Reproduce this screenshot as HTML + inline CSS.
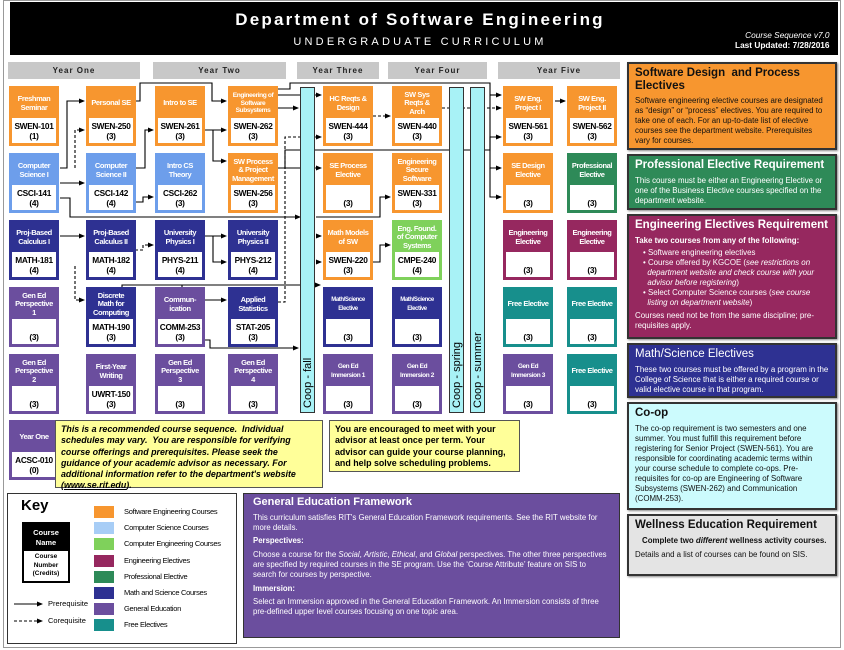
<!DOCTYPE html>
<html><head><meta charset="utf-8"><style>
*{margin:0;padding:0;box-sizing:border-box}
body{width:844px;height:650px;background:#fff;position:relative;font-family:"Liberation Sans",sans-serif;overflow:hidden}
.abs{position:absolute}
.hdr{left:10px;top:2px;width:828px;height:53px;background:#000;color:#fff}
.yr{position:absolute;top:62px;height:17px;background:#c8c8c8;font-size:8px;font-weight:bold;letter-spacing:1px;text-align:center;line-height:17px;color:#222}
.b{position:absolute;width:50px;height:60px;border:3px solid;display:flex;flex-direction:column}
.b .t{height:29px;color:#fff;font-size:7.5px;font-weight:bold;text-align:center;display:flex;align-items:center;justify-content:center;line-height:8.6px;letter-spacing:-0.4px}
.b .w{flex:1;background:#fff;font-size:8.3px;font-weight:bold;text-align:center;display:flex;align-items:center;justify-content:center;line-height:10px;letter-spacing:-0.3px}
.o{border-color:#f7962f;background:#f7962f}
.c{border-color:#6d9eeb;background:#6d9eeb}
.ce{border-color:#7fd15b;background:#7fd15b}
.m{border-color:#2e3192;background:#2e3192}
.g{border-color:#6b4e9e;background:#6b4e9e}
.e{border-color:#96285f;background:#96285f}
.p{border-color:#2e8a58;background:#2e8a58}
.f{border-color:#178f8c;background:#178f8c}
.coop{position:absolute;top:87px;height:326px;width:15px;background:#a8f2f6;border:1px solid #333}
.coop span{position:absolute;left:50%;bottom:4px;transform-origin:left bottom;transform:rotate(-90deg) translate(0,50%);white-space:nowrap;font-size:11px}
.rp{position:absolute;left:627px;width:210px;border:2px solid #333;padding:3px 6px;font-size:7.9px;line-height:10px;box-shadow:1px 1px 2px #888}
.rp h3{font-size:11.5px;line-height:13px;margin-bottom:4px}
.note{position:absolute;background:#ffff99;border:1px solid #555;font-size:8.9px;font-weight:bold;line-height:11.3px;padding:3px 5px}
.kr{position:absolute;width:20px;height:12px}
.kt{position:absolute;font-size:7.5px;letter-spacing:-0.3px}
</style></head><body>
<div class="abs" style="left:3px;top:0;width:838px;height:648px;border:1px solid #999"></div>
<div class="abs hdr">
 <div class="abs" style="left:0;width:820px;top:8px;text-align:center;font-size:17px;font-weight:bold;letter-spacing:2.2px">Department of Software Engineering</div>
 <div class="abs" style="left:0;width:820px;top:34px;text-align:center;font-size:11px;letter-spacing:3.2px">UNDERGRADUATE CURRICULUM</div>
 <div class="abs" style="left:725px;top:28px;font-size:8.3px;text-align:right;line-height:10px"><i>Course Sequence v7.0</i><br><b>Last Updated: 7/28/2016</b></div>
</div>
<div class="yr" style="left:8px;width:132px">Year One</div>
<div class="yr" style="left:153px;width:133px">Year Two</div>
<div class="yr" style="left:297px;width:82px">Year Three</div>
<div class="yr" style="left:388px;width:99px">Year Four</div>
<div class="yr" style="left:498px;width:122px">Year Five</div>

<svg class="abs" style="left:0;top:0" width="844" height="650">
<defs><marker id="a" markerUnits="userSpaceOnUse" markerWidth="6" markerHeight="6" refX="5" refY="3" orient="auto"><path d="M0,0.5L6,3L0,5.5z" fill="#000"/></marker></defs>
<g fill="none" stroke="#000" stroke-width="1.1" marker-end="url(#a)">
<path d="M60,168H67V101H84"/>
<path d="M60,183H84"/>
<path d="M60,198H70V217H300"/>
<path d="M316,217H380V197H390"/>
<path d="M135,101H140V83H212V101H226"/>
<path d="M135,168H145V130H153"/>
<path d="M135,202H143V197H153"/>
<path d="M205,130H226"/>
<path d="M213,130V161H226"/>
<path d="M278,108H298"/>
<path d="M278,95H321"/>
<path d="M278,168H321"/>
<path d="M285,168V150H490V137H501"/>
<path d="M278,89H290V83H490V168H501"/>
<path d="M490,95H501"/>
<path d="M555,101H565"/>
<path d="M490,168V197H501"/>
<path d="M60,236H84"/>
<path d="M205,236H226"/>
<path d="M213,236V262H226"/>
<path d="M316,262H321"/>
<path d="M373,262H380V245H390"/>
<path d="M316,236H321"/>
<path d="M135,300H122V285H320"/>
<path d="M182,285V300H226"/>
<path d="M205,340H210V348H298"/>
</g>
<g fill="none" stroke="#000" stroke-width="1.1" stroke-dasharray="3,2" marker-end="url(#a)">
<path d="M75,168V130H84"/>
<path d="M135,250H143V245H153"/>
<path d="M75,266V300H84"/>
<path d="M278,302H285V137H321"/>
<path d="M373,116H390"/>
<path d="M442,108H501"/>
</g>
</svg>

<div class="coop" style="left:300px"><span>Coop - fall</span></div>
<div class="coop" style="left:449px"><span>Coop - spring</span></div>
<div class="coop" style="left:470px"><span>Coop - summer</span></div>

<div class="b o" style="left:9px;top:86px"><div class="t">Freshman<br>Seminar</div><div class="w">SWEN-101<br>(1)</div></div>
<div class="b o" style="left:86px;top:86px"><div class="t">Personal SE</div><div class="w">SWEN-250<br>(3)</div></div>
<div class="b o" style="left:155px;top:86px"><div class="t">Intro to SE</div><div class="w">SWEN-261<br>(3)</div></div>
<div class="b o" style="left:228px;top:86px"><div class="t" style="font-size:6.6px;line-height:7.8px">Engineering of<br>Software<br>Subsystems</div><div class="w">SWEN-262<br>(3)</div></div>
<div class="b o" style="left:323px;top:86px"><div class="t">HC Reqts &amp;<br>Design</div><div class="w">SWEN-444<br>(3)</div></div>
<div class="b o" style="left:392px;top:86px"><div class="t">SW Sys<br>Reqts &amp;<br>Arch</div><div class="w">SWEN-440<br>(3)</div></div>
<div class="b o" style="left:503px;top:86px"><div class="t">SW Eng.<br>Project I</div><div class="w">SWEN-561<br>(3)</div></div>
<div class="b o" style="left:567px;top:86px"><div class="t">SW Eng.<br>Project II</div><div class="w">SWEN-562<br>(3)</div></div>

<div class="b c" style="left:9px;top:153px"><div class="t">Computer<br>Science I</div><div class="w">CSCI-141<br>(4)</div></div>
<div class="b c" style="left:86px;top:153px"><div class="t">Computer<br>Science II</div><div class="w">CSCI-142<br>(4)</div></div>
<div class="b c" style="left:155px;top:153px"><div class="t">Intro CS<br>Theory</div><div class="w">CSCI-262<br>(3)</div></div>
<div class="b o" style="left:228px;top:153px"><div class="t">SW Process<br>&amp; Project<br>Management</div><div class="w">SWEN-256<br>(3)</div></div>
<div class="b o" style="left:323px;top:153px"><div class="t">SE Process<br>Elective</div><div class="w"><br>(3)</div></div>
<div class="b o" style="left:392px;top:153px"><div class="t">Engineering<br>Secure<br>Software</div><div class="w">SWEN-331<br>(3)</div></div>
<div class="b o" style="left:503px;top:153px"><div class="t">SE Design<br>Elective</div><div class="w"><br>(3)</div></div>
<div class="b p" style="left:567px;top:153px"><div class="t">Professional<br>Elective</div><div class="w"><br>(3)</div></div>

<div class="b m" style="left:9px;top:220px"><div class="t">Proj-Based<br>Calculus I</div><div class="w">MATH-181<br>(4)</div></div>
<div class="b m" style="left:86px;top:220px"><div class="t">Proj-Based<br>Calculus II</div><div class="w">MATH-182<br>(4)</div></div>
<div class="b m" style="left:155px;top:220px"><div class="t">University<br>Physics I</div><div class="w">PHYS-211<br>(4)</div></div>
<div class="b m" style="left:228px;top:220px"><div class="t">University<br>Physics II</div><div class="w">PHYS-212<br>(4)</div></div>
<div class="b o" style="left:323px;top:220px"><div class="t">Math Models<br>of SW</div><div class="w">SWEN-220<br>(3)</div></div>
<div class="b ce" style="left:392px;top:220px"><div class="t">Eng. Found.<br>of Computer<br>Systems</div><div class="w">CMPE-240<br>(4)</div></div>
<div class="b e" style="left:503px;top:220px"><div class="t">Engineering<br>Elective</div><div class="w"><br>(3)</div></div>
<div class="b e" style="left:567px;top:220px"><div class="t">Engineering<br>Elective</div><div class="w"><br>(3)</div></div>

<div class="b g" style="left:9px;top:287px"><div class="t">Gen Ed<br>Perspective<br>1</div><div class="w"><br>(3)</div></div>
<div class="b m" style="left:86px;top:287px"><div class="t">Discrete<br>Math for<br>Computing</div><div class="w">MATH-190<br>(3)</div></div>
<div class="b g" style="left:155px;top:287px"><div class="t">Commun-<br>ication</div><div class="w">COMM-253<br>(3)</div></div>
<div class="b m" style="left:228px;top:287px"><div class="t">Applied<br>Statistics</div><div class="w">STAT-205<br>(3)</div></div>
<div class="b m" style="left:323px;top:287px"><div class="t" style="font-size:6px">Math/Science<br>Elective</div><div class="w"><br>(3)</div></div>
<div class="b m" style="left:392px;top:287px"><div class="t" style="font-size:6px">Math/Science<br>Elective</div><div class="w"><br>(3)</div></div>
<div class="b f" style="left:503px;top:287px"><div class="t">Free Elective</div><div class="w"><br>(3)</div></div>
<div class="b f" style="left:567px;top:287px"><div class="t">Free Elective</div><div class="w"><br>(3)</div></div>

<div class="b g" style="left:9px;top:354px"><div class="t">Gen Ed<br>Perspective<br>2</div><div class="w"><br>(3)</div></div>
<div class="b g" style="left:86px;top:354px"><div class="t">First-Year<br>Writing</div><div class="w">UWRT-150<br>(3)</div></div>
<div class="b g" style="left:155px;top:354px"><div class="t">Gen Ed<br>Perspective<br>3</div><div class="w"><br>(3)</div></div>
<div class="b g" style="left:228px;top:354px"><div class="t">Gen Ed<br>Perspective<br>4</div><div class="w"><br>(3)</div></div>
<div class="b g" style="left:323px;top:354px"><div class="t" style="font-size:6.5px">Gen Ed<br>Immersion 1</div><div class="w"><br>(3)</div></div>
<div class="b g" style="left:392px;top:354px"><div class="t" style="font-size:6.5px">Gen Ed<br>Immersion 2</div><div class="w"><br>(3)</div></div>
<div class="b g" style="left:503px;top:354px"><div class="t" style="font-size:6.5px">Gen Ed<br>Immersion 3</div><div class="w"><br>(3)</div></div>
<div class="b f" style="left:567px;top:354px"><div class="t">Free Elective</div><div class="w"><br>(3)</div></div>

<div class="b g" style="left:9px;top:420px"><div class="t">Year One</div><div class="w">ACSC-010<br>(0)</div></div>

<div class="note" style="left:55px;top:420px;width:268px;height:68px;font-style:italic">This is a recommended course sequence. &nbsp;Individual schedules may vary. &nbsp;You are responsible for verifying course offerings and prerequisites. Please seek the guidance of your academic advisor as necessary. For additional information refer to the department's website (<u>www.se.rit.edu</u>).</div>
<div class="note" style="left:329px;top:420px;width:191px;height:52px">You are encouraged to meet with your advisor at least once per term. Your advisor can guide your course planning, and help solve scheduling problems.</div>

<div class="abs" style="left:7px;top:493px;width:230px;height:151px;border:1px solid #333"></div>
<div class="abs" style="left:21px;top:497px;font-size:15px;font-weight:bold">Key</div>
<div class="abs" style="left:22px;top:522px;width:48px;height:61px;background:#000;border:2px solid #000">
 <div style="height:27px;color:#fff;font-size:7.5px;font-weight:bold;text-align:center;line-height:10px;padding-top:4px">Course<br>Name</div>
 <div style="background:#fff;height:30px;font-size:6.5px;font-weight:bold;text-align:center;line-height:8.5px;padding-top:2px">Course<br>Number<br>(Credits)</div>
</div>
<svg class="abs" style="left:0;top:595px" width="80" height="40"><g stroke="#000" stroke-width="1.1" marker-end="url(#a)"><path d="M14,9H42"/><path d="M14,26H42" stroke-dasharray="3,2"/></g></svg>
<div class="abs" style="left:48px;top:599px;font-size:7.5px">Prerequisite</div>
<div class="abs" style="left:48px;top:616px;font-size:7.5px">Corequisite</div>
<div class="kr" style="top:506px;left:94px;background:#f7962f"></div><div class="kt" style="left:124px;top:507px">Software Engineering Courses</div>
<div class="kr" style="top:522px;left:94px;background:#a7cdf6"></div><div class="kt" style="left:124px;top:523px">Computer Science Courses</div>
<div class="kr" style="top:538px;left:94px;background:#7fd15b"></div><div class="kt" style="left:124px;top:539px">Computer Engineering Courses</div>
<div class="kr" style="top:555px;left:94px;background:#96285f"></div><div class="kt" style="left:124px;top:556px">Engineering Electives</div>
<div class="kr" style="top:571px;left:94px;background:#2e8a58"></div><div class="kt" style="left:124px;top:572px">Professional Elective</div>
<div class="kr" style="top:587px;left:94px;background:#2e3192"></div><div class="kt" style="left:124px;top:588px">Math and Science Courses</div>
<div class="kr" style="top:603px;left:94px;background:#6b4e9e"></div><div class="kt" style="left:124px;top:604px">General Education</div>
<div class="kr" style="top:619px;left:94px;background:#178f8c"></div><div class="kt" style="left:124px;top:620px">Free Electives</div>

<div class="abs" style="left:243px;top:493px;width:377px;height:145px;background:#6b4e9e;border:1px solid #333;color:#fff;padding:4px 9px;font-size:7.8px;line-height:9.8px">
<div style="font-size:11px;font-weight:bold;margin-bottom:5px">General Education Framework</div>
<div>This curriculum satisfies RIT's General Education Framework requirements. See the RIT website for more details.</div>
<div style="font-weight:bold;margin:4px 0">Perspectives:</div>
<div>Choose a course for the <i>Social</i>, <i>Artistic</i>, <i>Ethical</i>, and <i>Global</i> perspectives. The other three perspectives are specified by required courses in the SE program. Use the ‘Course Attribute’ feature on SIS to search for courses by perspective.</div>
<div style="font-weight:bold;margin:4px 0">Immersion:</div>
<div>Select an Immersion approved in the General Education Framework. An Immersion consists of three pre-defined upper level courses focusing on one topic area.</div>
</div>

<div class="rp" style="top:62px;height:88px;background:#f7962f;color:#111"><h3 style="margin-bottom:3px">Software Design &nbsp;and Process Electives</h3>Software engineering elective courses are designated as “design” or “process” electives. You are required to take one of each. For an up-to-date list of elective courses see the department website. Prerequisites vary for courses.</div>
<div class="rp" style="top:154px;height:56px;background:#2e8a58;color:#fff"><h3>Professional Elective Requirement</h3>This course must be either an Engineering Elective or one of the Business Elective courses specified on the department website.</div>
<div class="rp" style="top:214px;height:125px;background:#96285f;color:#fff"><h3>Engineering Electives Requirement</h3><b>Take two courses from any of the following:</b>
<div style="padding-left:8px;margin-top:2px">• Software engineering electives<br>• Course offered by KGCOE (<i>see restrictions on<br>&nbsp;&nbsp;department website and check course with your<br>&nbsp;&nbsp;advisor before registering</i>)<br>• Select Computer Science courses (<i>see course<br>&nbsp;&nbsp;listing on department website</i>)</div><div style="margin-top:3px">Courses need not be from the same discipline; pre-requisites apply.</div></div>
<div class="rp" style="top:343px;height:55px;background:#2e3192;color:#fff"><h3 style="font-weight:normal">Math/Science Electives</h3>These two courses must be offered by a program in the College of Science that is either a required course or valid elective course in that program.</div>
<div class="rp" style="top:402px;height:108px;background:#ccfbfd;color:#111"><h3>Co-op</h3>The co-op requirement is two semesters and one summer. You must fulfill this requirement before registering for Senior Project (SWEN-561). You are responsible for coordinating academic terms within your course schedule to complete co-ops. Pre-requisites for co-op are Engineering of Software Subsystems (SWEN-262) and Communication (COMM-253).</div>
<div class="rp" style="top:514px;height:62px;background:#e4e4e4;color:#111"><h3>Wellness Education Requirement</h3><div style="padding-left:7px;font-weight:bold">Complete two <i>different</i> wellness activity courses.</div><div style="margin-top:4px">Details and a list of courses can be found on SIS.</div></div>
</body></html>
